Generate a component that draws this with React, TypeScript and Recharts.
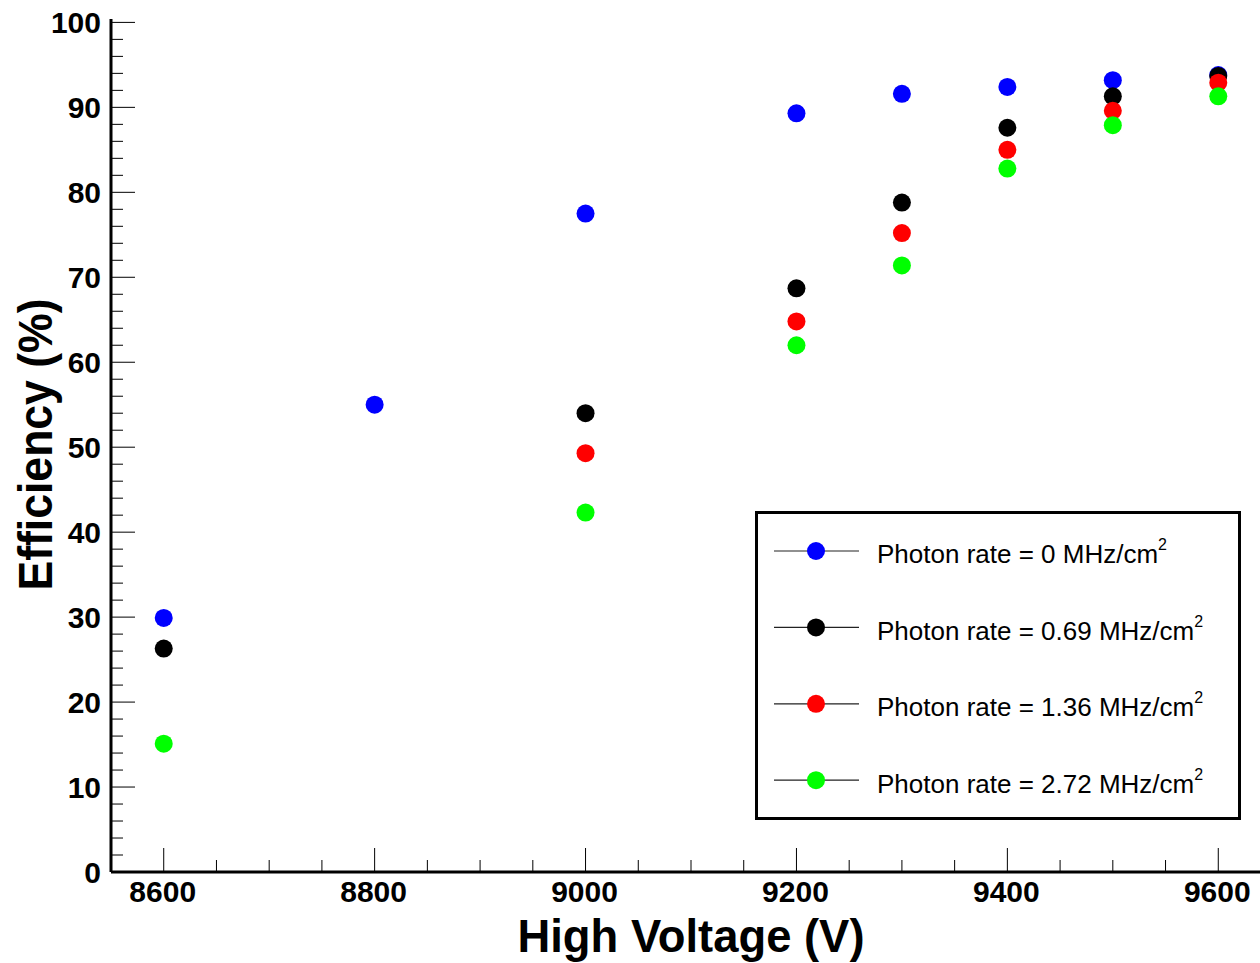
import React from 'react';
import { ScatterChart, Scatter, XAxis, YAxis, Legend, Label } from 'recharts';

const voltages = [8600, 8800, 9000, 9200, 9300, 9400, 9500, 9600];
const effRate0 = [29.9, 55.0, 77.5, 89.3, 91.6, 92.4, 93.2, 93.8];
const effRate069 = [26.3, null, 54.0, 68.7, 78.8, 87.6, 91.3, 93.7];
const effRate136 = [null, null, 49.3, 64.8, 75.2, 85.0, 89.6, 92.9];
const effRate272 = [15.1, null, 42.3, 62.0, 71.4, 82.8, 87.9, 91.3];
const photonRates = ['0', '0.69', '1.36', '2.72'];
const seriesColors = ['#0000ff', '#000000', '#ff0000', '#00ff00'];
const xMajorLabels = [8600, 8800, 9000, 9200, 9400, 9600];
const yMajorLabels = [0, 10, 20, 30, 40, 50, 60, 70, 80, 90, 100];

const xTicks: number[] = [];
for (let v = 8550; v <= 9650; v += 50) xTicks.push(v);
const yTicks: number[] = [];
for (let v = 0; v <= 100; v += 2) yTicks.push(v);

const FONT = '"Liberation Sans", Arial, Helvetica, sans-serif';

const allSeries = [effRate0, effRate069, effRate136, effRate272].map((arr, i) => ({
  name: `Photon rate = ${photonRates[i]} MHz/cm`,
  color: seriesColors[i],
  data: voltages
    .map((v, j) => ({ x: v, y: arr[j] }))
    .filter((d) => d.y !== null && d.y !== undefined),
}));

const XTick = (props: any) => {
  const { x, y, payload } = props;
  const v = payload.value;
  const major = xMajorLabels.includes(v);
  return (
    <g>
      <line x1={x} x2={x} y1={y} y2={y - (major ? 24 : 12)} stroke="#000" strokeWidth={1} />
      {major && (
        <text x={x - 1} y={y + 30} textAnchor="middle" fontFamily={FONT} fontWeight="bold" fontSize={30} fill="#000">
          {v}
        </text>
      )}
    </g>
  );
};

const YTick = (props: any) => {
  const { x, y, payload } = props;
  const v = payload.value;
  const major = yMajorLabels.includes(v);
  return (
    <g>
      <line x1={x} x2={x + (major ? 24 : 12)} y1={y} y2={y} stroke="#000" strokeWidth={1} />
      {major && (
        <text x={x - 10} y={y + 10.5} textAnchor="end" fontFamily={FONT} fontWeight="bold" fontSize={30} fill="#000">
          {v}
        </text>
      )}
    </g>
  );
};

const renderLegend = (props: any) => {
  const payload = props.payload || [];
  return (
    <svg width={490} height={312} style={{ display: 'block', overflow: 'visible' }}>
      <rect x={1.5} y={1.5} width={483} height={306} fill="#fff" stroke="#000" strokeWidth={3} />
      {payload.map((entry: any, i: number) => {
        const cy = 40 + i * 76.4;
        return (
          <g key={i}>
            <line x1={19} x2={104} y1={cy} y2={cy} stroke="#222" strokeWidth={1.2} />
            <circle cx={61} cy={cy} r={9} fill={entry.color || seriesColors[i]} />
            <text x={122} y={cy + 12.3} fontSize={26} fontFamily={FONT} fill="#000">
              {entry.value}
              <tspan dy={-13} fontSize={16}>2</tspan>
            </text>
          </g>
        );
      })}
    </svg>
  );
};

export default function App() {
  return (
    <div style={{ position: 'absolute', left: 0, top: 0, width: 1260, height: 963, overflow: 'hidden', background: '#fff' }}>
      <ScatterChart width={1281} height={963} margin={{ top: 19, right: 10, bottom: 0, left: 0 }}>
        <XAxis
          xAxisId="top"
          orientation="top"
          type="number"
          dataKey="x"
          domain={[8550, 9650]}
          allowDataOverflow
          height={0}
          tick={false}
          tickLine={false}
          axisLine={{ stroke: '#000', strokeWidth: 3 }}
        />
        <XAxis
          type="number"
          dataKey="x"
          domain={[8550, 9650]}
          allowDataOverflow
          ticks={xTicks}
          interval={0}
          height={91}
          tickSize={0}
          tickMargin={0}
          tickLine={false}
          tick={XTick}
          axisLine={{ stroke: '#000', strokeWidth: 3 }}
        >
          <Label
            content={(p: any) => {
              const vb = p.viewBox || { x: 111, width: 1160, y: 872 };
              return (
                <text
                  x={vb.x + vb.width / 2}
                  y={vb.y + 80}
                  textAnchor="middle"
                  fontFamily={FONT}
                  fontWeight="bold"
                  fontSize={46}
                  textLength={347}
                  lengthAdjust="spacingAndGlyphs"
                  fill="#000"
                >
                  High Voltage (V)
                </text>
              );
            }}
          />
        </XAxis>
        <YAxis
          type="number"
          dataKey="y"
          domain={[0, 100.4]}
          allowDataOverflow
          ticks={yTicks}
          interval={0}
          width={111}
          tickSize={0}
          tickMargin={0}
          tickLine={false}
          tick={YTick}
          axisLine={{ stroke: '#000', strokeWidth: 3 }}
        >
          <Label
            content={(p: any) => {
              const vb = p.viewBox || { x: 0, y: 19, height: 853 };
              const cy = vb.y + vb.height / 2 - 1;
              return (
                <text
                  x={52}
                  y={cy}
                  transform={`rotate(-90, 52, ${cy})`}
                  textAnchor="middle"
                  fontFamily={FONT}
                  fontWeight="bold"
                  fontSize={48}
                  textLength={292}
                  lengthAdjust="spacingAndGlyphs"
                  fill="#000"
                >
                  Efficiency (%)
                </text>
              );
            }}
          />
        </YAxis>
        {allSeries.map((s) => (
          <Scatter
            key={s.name}
            name={s.name}
            data={s.data}
            fill={s.color}
            isAnimationActive={false}
            shape={(p: any) => <circle cx={p.cx} cy={p.cy} r={9} fill={s.color} />}
          />
        ))}
        <Legend
          layout="vertical"
          align="center"
          verticalAlign="middle"
          content={renderLegend}
          wrapperStyle={{ position: 'absolute', left: 755, top: 511, width: 490, height: 312 }}
        />
      </ScatterChart>
    </div>
  );
}
